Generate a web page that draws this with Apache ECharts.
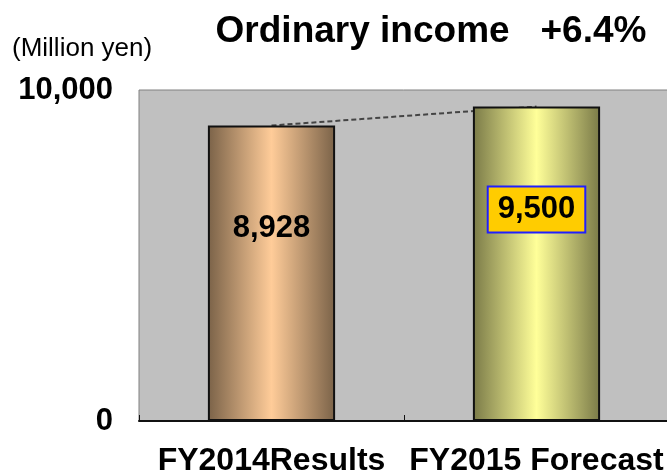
<!DOCTYPE html>
<html>
<head>
<meta charset="utf-8">
<script src="https://cdn.jsdelivr.net/npm/echarts@6/dist/echarts.min.js"></script>
<style>
    html, body {margin: 0; padding: 0; background: #fff;}
    #main {width: 667px; height: 472px;}
</style>
</head>
<body>
<div id="main"></div>
<script>
var categories = ['FY2014Results', 'FY2015 Forecast'];
var values = [8928, 9500];
var yTicks = [0, 10000];

function barGradient(edge, mid) {
    return new echarts.graphic.LinearGradient(0, 0, 1, 0, [
        {offset: 0, color: edge},
        {offset: 0.5, color: mid},
        {offset: 1, color: edge}
    ]);
}

var barColors = [
    barGradient('#7a6248', '#ffcc99'),
    barGradient('#7a7a48', '#ffff99')
];

var labelStyles = [
    {},
    {backgroundColor: '#ffcc00', borderColor: '#1f1fff', borderWidth: 2, padding: [7, 9, 6, 9]}
];

var barData = values.map(function (v, i) {
    return {
        value: v,
        itemStyle: {color: barColors[i]},
        label: labelStyles[i]
    };
});

var option = {
    animation: false,
    textStyle: {fontFamily: 'Liberation Sans'},
    title: [
        {
            text: 'Ordinary income   +6.4%',
            left: 426, top: 8, textAlign: 'center',
            textStyle: {fontSize: 37, fontWeight: 'bold', color: '#000'}
        },
        {
            text: '(Million yen)',
            left: 7, top: 31,
            textStyle: {fontSize: 26, fontWeight: 'normal', color: '#000'}
        }
    ],
    grid: {
        left: 139, right: -2, top: 90, bottom: 51,
        containLabel: false, outerBoundsMode: 'none',
        show: true, backgroundColor: '#c0c0c0', borderColor: '#808080', borderWidth: 1
    },
    xAxis: {
        type: 'category',
        data: categories,
        axisLine: {lineStyle: {color: '#111', width: 2}},
        axisTick: {show: true, inside: true, length: 6, lineStyle: {color: '#111'}},
        axisLabel: {interval: 0, fontSize: 32, fontWeight: 'bold', color: '#000', margin: 24}
    },
    yAxis: {
        type: 'value',
        min: yTicks[0], max: yTicks[1], interval: yTicks[1] - yTicks[0],
        splitLine: {show: false},
        axisLine: {show: false},
        axisTick: {show: false},
        axisLabel: {
            fontSize: 31, fontWeight: 'bold', color: '#000', margin: 26,
            formatter: function (v) { return v.toLocaleString('en-US'); }
        }
    },
    series: [
        {
            type: 'line',
            data: values,
            symbol: 'none',
            z: 1,
            lineStyle: {color: '#444', width: 2, type: [5, 3]}
        },
        {
            type: 'bar',
            data: barData,
            barWidth: '48%',
            z: 2,
            itemStyle: {borderColor: '#111', borderWidth: 2},
            label: {
                show: true,
                position: ['50%', 103],
                align: 'center',
                verticalAlign: 'middle',
                fontSize: 31,
                fontWeight: 'bold',
                color: '#000',
                formatter: function (p) { return p.value.toLocaleString('en-US'); }
            }
        }
    ]
};

var chart = echarts.init(document.getElementById('main'));
chart.setOption(option);
</script>
</body>
</html>
